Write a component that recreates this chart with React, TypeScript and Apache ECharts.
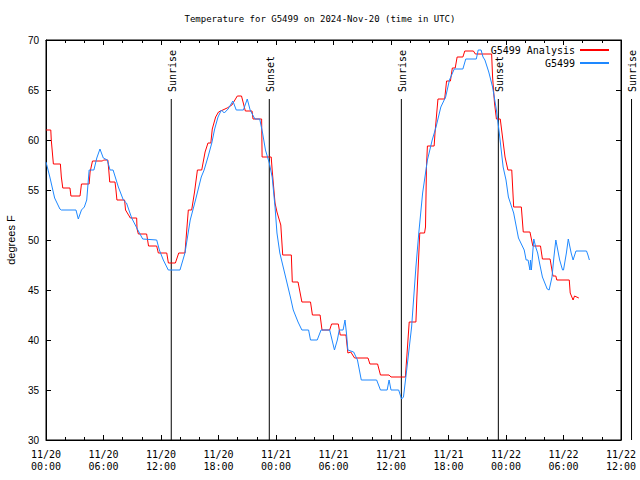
import React, { useEffect, useRef } from "react";
import * as echarts from "echarts";

const titleText = "Temperature for G5499 on 2024-Nov-20 (time in UTC)";
const seriesNames = ["G5499 Analysis", "G5499"];

// [hours since 2024-11-20 00:00 UTC, degrees F]
const analysisSeries: number[][] = [
  [0, 61], [0.5, 61], [0.55, 60], [0.77, 57.6], [1.5, 57.6], [1.6, 56.3], [1.75, 55.2], [2.5, 55.2],
  [2.6, 54.4], [3.55, 54.4], [3.7, 55.6], [4.5, 55.6], [4.6, 56.8], [4.85, 57.9], [5.9, 57.9],
  [6.0, 58.0], [6.45, 58.0], [6.55, 57], [6.65, 55.8], [7.2, 55.8], [7.3, 55], [7.4, 54], [8.2, 54],
  [8.3, 53], [8.8, 52.2], [9.46, 52.2], [9.5, 51.1], [9.64, 50.6], [10.5, 50.6], [10.7, 49.4],
  [11.55, 49.4], [11.72, 48.7], [12.6, 48.7], [12.77, 47.7], [13.5, 47.7], [13.85, 48.7], [14.5, 48.7],
  [14.85, 53], [15.2, 53], [15.5, 54.8], [15.8, 57], [16.25, 57], [16.6, 58.8], [16.9, 59.7], [17.2, 59.7],
  [17.35, 61.1], [17.7, 62.3], [18.0, 62.8], [18.9, 63.2], [19.4, 63.5], [19.96, 64.4], [20.4, 64.4],
  [20.8, 62.9], [21.5, 62.9], [21.6, 62.1], [22.5, 62.1], [22.55, 58.3], [23.5, 58.3], [23.6, 57],
  [23.9, 53.7], [24.1, 52.8], [24.5, 51.5], [24.7, 48.5], [25.6, 48.5], [25.7, 45.8], [26.3, 45.8],
  [26.7, 43.8], [27.6, 43.8], [27.8, 42.5], [28.6, 42.5], [28.8, 41], [29.6, 41], [29.8, 41.6],
  [30.5, 41.6], [30.7, 40.5], [31.3, 40.5], [31.5, 38.7], [31.8, 38.8], [32.2, 38.2], [33.6, 38.2],
  [33.8, 37.6], [34.6, 37.6], [34.9, 36.5], [35.8, 36.5], [36.0, 36.3], [37.5, 36.3], [37.7, 39],
  [37.9, 41.8], [38.6, 41.8], [38.7, 44.3], [39.0, 50.7], [39.5, 50.7], [39.6, 51.3], [39.7, 57.3],
  [39.8, 59.4], [40.5, 59.4], [40.6, 60.8], [40.9, 64.1], [41.6, 64.1], [41.8, 65.9], [42.2, 65.9],
  [42.4, 67.2], [42.7, 67.2], [42.9, 68.3], [43.5, 68.3], [43.7, 68.9], [44.6, 68.9], [44.8, 68.6],
  [46.5, 68.6], [46.6, 66.3], [46.8, 63.7], [47.0, 62.1], [47.4, 62.1], [47.7, 59.8], [47.9, 58.3],
  [48.2, 57], [48.6, 57], [48.8, 53.3], [49.6, 53.3], [49.8, 50.8], [50.5, 50.8], [50.8, 49.4],
  [51.6, 49.4], [51.8, 48.1], [52.6, 48.1], [52.9, 46.4], [53.2, 46.4], [53.3, 46], [54.6, 46],
  [54.7, 44.7], [55.0, 44], [55.15, 44.4], [55.6, 44.2],
];

const observedSeries: number[][] = [
  [0, 57.8], [0.4, 56.3], [0.9, 54.2], [1.45, 53.1], [1.6, 53], [3.13, 53], [3.37, 52.1], [3.7, 53],
  [4.0, 53.3], [4.25, 54], [4.5, 57], [5.0, 57], [5.3, 58.2], [5.63, 59.1], [5.98, 58.2], [6.4, 58],
  [6.68, 57], [7.0, 57], [7.55, 55.3], [8.07, 54], [8.4, 53.7], [8.94, 52.2], [9.53, 51.1], [10.09, 50.1],
  [11.55, 50], [11.83, 49], [12.24, 48], [12.76, 47], [13.98, 47], [14.5, 48.7], [15.05, 52], [15.6, 54],
  [16.2, 56.3], [16.5, 57], [16.9, 58.3], [17.3, 59.7], [17.6, 61.1], [17.95, 62.3], [18.3, 63],
  [18.6, 62.7], [19.0, 63.1], [19.5, 63.9], [19.85, 63], [20.6, 63], [21.0, 64.1], [21.3, 63],
  [21.8, 62.1], [22.3, 62.1], [22.6, 60.7], [22.9, 59], [23.3, 57.7], [23.6, 56.3], [23.9, 53.3],
  [24.1, 50.7], [24.4, 48.7], [24.9, 46.7], [25.5, 44.3], [25.8, 43], [26.3, 41.8], [26.7, 41],
  [27.4, 41], [27.6, 40], [28.3, 40], [28.7, 41], [29.6, 41], [29.8, 40.2], [30.1, 39], [30.4, 40],
  [30.6, 41], [31.0, 41], [31.2, 42], [31.35, 40.7], [31.5, 39], [32.1, 38.8], [32.5, 38], [32.9, 36],
  [34.5, 36], [34.9, 35], [35.6, 35], [35.8, 36], [36.0, 35], [36.8, 35], [37.1, 34.1], [37.3, 34.3],
  [37.6, 36.7], [38.15, 41.3], [38.6, 47.3], [38.9, 50.7], [39.3, 54.7], [39.8, 58], [40.3, 60],
  [40.7, 61.3], [41.2, 63.3], [41.7, 64.3], [42.1, 66], [42.6, 67.1], [43.5, 67.1], [43.8, 68.1],
  [44.9, 68.1], [45.1, 69], [45.4, 69], [45.6, 68.3], [45.8, 68], [46.2, 66.8], [46.6, 65.3],
  [47.0, 63], [47.3, 60.7], [47.7, 57.3], [48.0, 56], [48.25, 54.3], [48.8, 52.7], [49.3, 50.2],
  [49.9, 49], [50.1, 48], [50.3, 48], [50.5, 47], [50.55, 48], [50.65, 47], [50.9, 50.1], [51.1, 49.3],
  [51.3, 48.7], [51.5, 47.7], [51.8, 46.3], [52.3, 45.1], [52.5, 45], [52.8, 46.3], [53.0, 48.3],
  [53.2, 50], [53.4, 49], [53.6, 48], [53.9, 47], [54.0, 47], [54.3, 48.7], [54.5, 50.1], [54.8, 48.7],
  [55.0, 48], [55.3, 48.9], [56.4, 48.9], [56.55, 48.5], [56.7, 48],
];

const sunEventHours = [13.07, 23.3, 37.08, 47.2, 61.1];
const sunEventLabels = ["Sunrise", "Sunset", "Sunrise", "Sunset", "Sunrise"];

const xTickHours = { min: 0, max: 60, interval: 6 };
const yTicks = { min: 30, max: 70, interval: 5 };

const MONO = "'DejaVu Sans Mono', 'Liberation Mono', monospace";
const SANS = "'Liberation Sans', Arial, sans-serif";

function formatHour(h: number): string {
  const day = 20 + Math.floor(h / 24);
  const hh = Math.round(h % 24);
  return `11/${day}\n${hh < 10 ? "0" + hh : hh}:00`;
}

export default function App() {
  const ref = useRef<HTMLDivElement>(null);
  useEffect(() => {
    if (!ref.current) return;
    const chart = echarts.init(ref.current, undefined, { renderer: "svg" });
    const tickCommon = {
      axisLine: { show: true, onZero: false, lineStyle: { color: "#000", width: 1 } },
      splitLine: { show: false },
      minorSplitLine: { show: false },
    };
    const xBase = (pos: "bottom" | "top", labels: boolean) => ({
      type: "value",
      position: pos,
      min: xTickHours.min,
      max: xTickHours.max,
      interval: xTickHours.interval,
      ...tickCommon,
      axisTick: { show: true, inside: true, length: 5, lineStyle: { color: "#000" } },
      minorTick: { show: true, splitNumber: 3, length: 3, lineStyle: { color: "#000" } },
      axisLabel: labels
        ? {
            show: true,
            formatter: (v: number) => formatHour(v),
            fontFamily: MONO,
            fontSize: 10,
            lineHeight: 12,
            color: "#000",
            margin: 8,
          }
        : { show: false },
    });
    const yBase = (pos: "left" | "right", labels: boolean) => ({
      type: "value",
      position: pos,
      min: yTicks.min,
      max: yTicks.max,
      interval: yTicks.interval,
      ...tickCommon,
      axisTick: { show: true, inside: true, length: 5, lineStyle: { color: "#000" } },
      axisLabel: labels
        ? { show: true, fontFamily: SANS, fontSize: 10, color: "#000", margin: 7 }
        : { show: false },
    });

    chart.setOption({
      animation: false,
      title: {
        text: titleText,
        left: "center",
        top: 14,
        padding: 0,
        textStyle: { fontFamily: MONO, fontSize: 9, fontWeight: "normal", color: "#000" },
      },
      legend: {
        data: seriesNames,
        orient: "vertical",
        right: 30,
        top: 45,
        align: "right",
        padding: 0,
        itemWidth: 29,
        itemHeight: 10,
        itemGap: 3,
        itemStyle: { opacity: 0 },
        textStyle: { fontFamily: MONO, fontSize: 10, color: "#000" },
      },
      grid: {
        left: 46,
        right: 19,
        top: 40,
        bottom: 40,
        containLabel: false,
        outerBoundsMode: "none",
        show: true,
        borderColor: "#000",
        borderWidth: 1,
      },
      xAxis: [xBase("bottom", true), xBase("top", false)],
      yAxis: [
        {
          ...yBase("left", true),
          name: "degrees F",
          nameLocation: "middle",
          nameGap: 30,
          nameRotate: 90,
          nameTextStyle: { fontFamily: SANS, fontSize: 11, color: "#000" },
        },
        yBase("right", false),
      ],
      series: [
        {
          name: seriesNames[0],
          type: "line",
          data: analysisSeries,
          symbol: "none",
          color: "#ff0000",
          lineStyle: { color: "#ff0000", width: 1 },
          z: 3,
        },
        {
          name: seriesNames[1],
          type: "line",
          data: observedSeries,
          symbol: "none",
          color: "#1e88ff",
          lineStyle: { color: "#1e88ff", width: 1 },
          z: 4,
        },
        {
          name: "sun",
          type: "custom",
          clip: false,
          silent: true,
          data: sunEventHours.map((h, i) => [h, yTicks.min, i]),
          encode: { x: 0, y: 1 },
          renderItem: (params: any, api: any) => {
            const bottom = api.coord([api.value(0), yTicks.min]);
            const top = api.coord([api.value(0), yTicks.max]);
            const lineTop = top[1] + 59;
            return {
              type: "group",
              children: [
                {
                  type: "line",
                  shape: { x1: bottom[0], y1: lineTop, x2: bottom[0], y2: bottom[1] },
                  style: { stroke: "#000", lineWidth: 1 },
                },
                {
                  type: "text",
                  x: bottom[0] + 1,
                  y: lineTop - 7,
                  rotation: Math.PI / 2,
                  style: {
                    text: sunEventLabels[api.value(2)],
                    font: `10px ${MONO}`,
                    fill: "#000",
                    align: "left",
                    verticalAlign: "middle",
                  },
                },
              ],
            };
          },
          z: 2,
        },
      ],
    });
    return () => chart.dispose();
  }, []);
  return <div ref={ref} style={{ width: 640, height: 480, position: "absolute", left: 0, top: 0 }} />;
}
